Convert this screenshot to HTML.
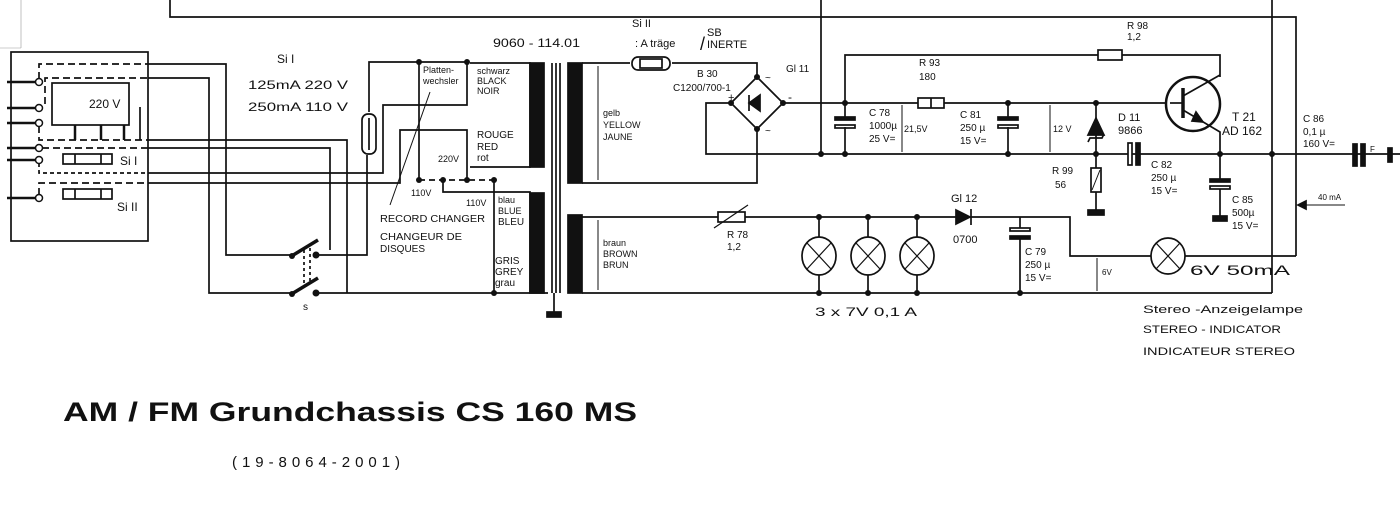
<!DOCTYPE html>
<html><head><meta charset="utf-8"><style>
html,body{margin:0;padding:0;background:#fff;}
svg{display:block;font-family:"Liberation Sans",sans-serif;}
text{fill:#111;}
</style></head><body>
<svg width="1400" height="511" viewBox="0 0 1400 511" xmlns="http://www.w3.org/2000/svg">
<g stroke="#111" stroke-width="1.7" fill="none">
<polyline points="170,0 170,17 1296,17 1296,256"/>
<line x1="821" y1="0" x2="821" y2="154"/>
<line x1="1272" y1="0" x2="1272" y2="293"/>
<line x1="21" y1="0" x2="21" y2="48" stroke-width="0.6" stroke="#999"/>
<line x1="0" y1="48" x2="21" y2="48" stroke-width="0.6" stroke="#999"/>
<rect x="11" y="52" width="137" height="189"/>
<rect x="52" y="83" width="77" height="42"/>
<line x1="75" y1="125" x2="75" y2="140" stroke-width="2.5"/>
<line x1="101" y1="125" x2="101" y2="140" stroke-width="2.5"/>
<line x1="124" y1="125" x2="124" y2="140" stroke-width="2.5"/>
<line x1="140" y1="107" x2="140" y2="140"/>
<g stroke-width="2.5">
<line x1="7" y1="82" x2="36" y2="82"/><line x1="7" y1="108" x2="36" y2="108"/>
<line x1="7" y1="123" x2="36" y2="123"/><line x1="7" y1="148" x2="36" y2="148"/>
<line x1="7" y1="160" x2="36" y2="160"/><line x1="7" y1="198" x2="36" y2="198"/>
</g>
<g stroke-dasharray="7,4">
<polyline points="39,79 39,64 148,64"/>
<polyline points="45,104 45,78 148,78"/>
<polyline points="39,126 39,140 148,140"/>
<line x1="42" y1="148" x2="148" y2="148"/>
<polyline points="39,163 39,173 148,173" stroke-dasharray="4,3"/>
<polyline points="39,195 39,183 148,183"/>
</g>
<rect x="63" y="154" width="49" height="10"/><line x1="75" y1="154" x2="75" y2="164"/><line x1="101" y1="154" x2="101" y2="164"/>
<rect x="63" y="189" width="49" height="10"/><line x1="75" y1="189" x2="75" y2="199"/><line x1="101" y1="189" x2="101" y2="199"/>
<polyline points="148,64 226,64 226,255 292,255"/>
<polyline points="148,78 209,78 209,293 292,293"/>
<polyline points="148,140 347,140 347,293"/>
<polyline points="148,148 330,148 330,250"/>
<polyline points="316,255 367,255 367,155"/>
<polyline points="148,173 383,173 383,105 467,105 467,62"/>
<polyline points="148,183 400,183 400,130 467,130 467,180"/>
<polyline points="369,112 369,62 467,62"/>
<line x1="419" y1="62" x2="419" y2="178"/>
<line x1="419" y1="180" x2="494" y2="180" stroke-dasharray="6,4"/>
<polyline points="443,180 443,192 511,192"/>
<line x1="494" y1="180" x2="494" y2="293"/>
<line x1="316" y1="293" x2="548" y2="293"/>
<line x1="430" y1="92" x2="390" y2="205" stroke-width="1"/>
<rect x="362" y="114" width="14" height="40" rx="6"/>
<line x1="369" y1="118" x2="369" y2="150"/>
<line x1="290" y1="257" x2="318" y2="240" stroke-width="3.5"/>
<line x1="290" y1="295" x2="318" y2="278" stroke-width="3.5"/>
<line x1="304" y1="250" x2="304" y2="285" stroke-dasharray="3,3"/>
<line x1="310" y1="248" x2="310" y2="283" stroke-dasharray="3,3"/>
<polyline points="470,63 530,63 530,167 470,167"/>
<polyline points="511,192 530,192 530,293"/>
<rect x="530" y="63" width="14" height="104" fill="#111"/>
<rect x="530" y="193" width="14" height="100" fill="#111"/>
<line x1="552" y1="63" x2="552" y2="293"/><line x1="556" y1="63" x2="556" y2="293"/><line x1="560" y1="63" x2="560" y2="293"/>
<line x1="554" y1="293" x2="554" y2="313"/>
<rect x="547" y="312" width="14" height="5" fill="#111"/>
<rect x="568" y="63" width="14" height="120" fill="#111"/>
<rect x="568" y="215" width="14" height="78" fill="#111"/>
<line x1="598" y1="66" x2="598" y2="180" stroke-width="1"/>
<line x1="598" y1="220" x2="598" y2="290" stroke-width="1"/>
<polyline points="582,63 630,63"/>
<rect x="632" y="57" width="38" height="13" rx="6"/><rect x="640" y="59" width="22" height="9"/>
<polyline points="672,63 757,63 757,77"/>
<polygon points="757,77 783,103 757,129 731,103"/>
<polygon points="749,103 760,95 760,111" fill="#111"/><line x1="749" y1="95" x2="749" y2="111"/>
<polyline points="731,103 706,103 706,154 1400,154"/>
<polyline points="757,129 757,183 582,183"/>
<line x1="783" y1="103" x2="1170" y2="103"/>
<polyline points="845,103 845,55 1220,55 1220,77"/>
<rect x="1098" y="50" width="24" height="10" fill="#fff"/>
<rect x="918" y="98" width="26" height="10" fill="#fff"/><line x1="931" y1="98" x2="931" y2="108"/>
<line x1="845" y1="103" x2="845" y2="117"/><line x1="845" y1="127" x2="845" y2="154"/>
<rect x="835" y="117" width="20" height="3" fill="#111"/><rect x="835" y="125" width="20" height="3"/>
<line x1="1008" y1="103" x2="1008" y2="117"/><line x1="1008" y1="127" x2="1008" y2="154"/>
<rect x="998" y="117" width="20" height="3" fill="#111"/><rect x="998" y="125" width="20" height="3"/>
<line x1="902" y1="105" x2="902" y2="152" stroke-width="1"/>
<line x1="1050" y1="105" x2="1050" y2="152" stroke-width="1"/>
<line x1="1096" y1="103" x2="1096" y2="154"/>
<polygon points="1096,118 1088,135 1104,135" fill="#111"/>
<polyline points="1088,142 1090,138 1102,138 1104,134"/>
<line x1="1096" y1="154" x2="1096" y2="210"/>
<rect x="1091" y="168" width="10" height="24" fill="#fff"/><line x1="1092" y1="190" x2="1100" y2="170" stroke-width="1"/>
<rect x="1088" y="210" width="16" height="5" fill="#111"/>
<rect x="1128" y="143" width="4" height="22" fill="#fff"/><rect x="1136" y="143" width="4" height="22" fill="#111"/>
<circle cx="1193" cy="104" r="27" stroke-width="2.5" fill="#fff"/>
<line x1="1170" y1="103" x2="1183" y2="103"/>
<line x1="1183" y1="88" x2="1183" y2="118" stroke-width="3.5"/>
<line x1="1183" y1="96" x2="1220" y2="75"/>
<polyline points="1183,110 1220,132 1220,154"/>
<polygon points="1203,122 1196,112 1192,121" fill="#111"/>
<line x1="1220" y1="154" x2="1220" y2="179"/><rect x="1210" y="179" width="20" height="3" fill="#111"/><rect x="1210" y="186" width="20" height="3"/>
<line x1="1220" y1="189" x2="1220" y2="216"/><rect x="1213" y="216" width="14" height="5" fill="#111"/>
<rect x="1353" y="144" width="4" height="22" fill="#111"/><rect x="1361" y="144" width="4" height="22" fill="#111"/>
<rect x="1388" y="148" width="4" height="14" fill="#111"/>
<line x1="1345" y1="205" x2="1300" y2="205" stroke-width="1"/>
<polygon points="1298,205 1306,201 1306,209" fill="#111"/>
<polyline points="582,217 956,217"/>
<rect x="718" y="212" width="27" height="10" fill="#fff"/><line x1="714" y1="228" x2="748" y2="205" stroke-width="1.2"/>
<polygon points="956,210 956,224 970,217" fill="#111"/><line x1="971" y1="209" x2="971" y2="225"/>
<polyline points="971,217 1070,217 1070,256 1152,256"/>
<line x1="1184" y1="256" x2="1296" y2="256"/>
<line x1="582" y1="293" x2="1272" y2="293"/>
<line x1="819" y1="217" x2="819" y2="293"/><line x1="868" y1="217" x2="868" y2="293"/><line x1="917" y1="217" x2="917" y2="293"/>
<g fill="#fff">
<ellipse cx="819" cy="256" rx="17" ry="19"/><ellipse cx="868" cy="256" rx="17" ry="19"/><ellipse cx="917" cy="256" rx="17" ry="19"/><ellipse cx="1168" cy="256" rx="17" ry="18"/>
</g>
<path d="M807,243 L831,269 M831,243 L807,269 M856,243 L880,269 M880,243 L856,269 M905,243 L929,269 M929,243 L905,269 M1156,243 L1180,269 M1180,243 L1156,269" stroke-width="1.2"/>
<line x1="1020" y1="217" x2="1020" y2="228"/><rect x="1010" y="228" width="20" height="3"/><rect x="1010" y="236" width="20" height="3" fill="#111"/><line x1="1020" y1="239" x2="1020" y2="293"/>
<line x1="1097" y1="258" x2="1097" y2="291" stroke-width="1"/>
</g>
<g fill="#111">
<circle cx="419" cy="62" r="3"/><circle cx="467" cy="62" r="3"/><circle cx="419" cy="180" r="3"/><circle cx="443" cy="180" r="3"/><circle cx="467" cy="180" r="3"/><circle cx="494" cy="180" r="3"/><circle cx="494" cy="293" r="3"/>
<circle cx="821" cy="154" r="3"/><circle cx="845" cy="154" r="3"/><circle cx="845" cy="103" r="3"/><circle cx="1008" cy="103" r="3"/><circle cx="1008" cy="154" r="3"/><circle cx="1096" cy="103" r="3"/><circle cx="1096" cy="154" r="3"/><circle cx="1220" cy="154" r="3"/><circle cx="1272" cy="154" r="3"/>
<circle cx="819" cy="217" r="3"/><circle cx="868" cy="217" r="3"/><circle cx="917" cy="217" r="3"/><circle cx="819" cy="293" r="3"/><circle cx="868" cy="293" r="3"/><circle cx="917" cy="293" r="3"/><circle cx="1020" cy="293" r="3"/>
<circle cx="757" cy="77" r="3"/><circle cx="757" cy="129" r="3"/><circle cx="731" cy="103" r="3"/><circle cx="783" cy="103" r="3"/>
<circle cx="316" cy="255" r="3.5"/><circle cx="316" cy="293" r="3.5"/><circle cx="292" cy="256" r="3"/><circle cx="292" cy="294" r="3"/>
</g>
<g fill="#fff" stroke="#111" stroke-width="1.5">
<circle cx="39" cy="82" r="3.5"/><circle cx="39" cy="108" r="3.5"/><circle cx="39" cy="123" r="3.5"/><circle cx="39" cy="148" r="3.5"/><circle cx="39" cy="160" r="3.5"/><circle cx="39" cy="198" r="3.5"/>
</g>
<g font-size="11">
<text x="89" y="108" font-size="12">220 V</text>
<text x="120" y="165" font-size="12">Si I</text>
<text x="117" y="211" font-size="12">Si II</text>
<text x="277" y="63" font-size="12">Si  I</text>
<text x="248" y="89" font-size="12" textLength="100" lengthAdjust="spacingAndGlyphs">125mA    220 V</text>
<text x="248" y="111" font-size="12" textLength="100" lengthAdjust="spacingAndGlyphs">250mA    110 V</text>
<text x="493" y="47" font-size="12" textLength="87" lengthAdjust="spacingAndGlyphs">9060 - 114.01</text>
<text x="423" y="73" font-size="9">Platten-</text><text x="423" y="84" font-size="9">wechsler</text>
<text x="477" y="74" font-size="9">schwarz</text><text x="477" y="84" font-size="9">BLACK</text><text x="477" y="94" font-size="9">NOIR</text>
<text x="477" y="138" font-size="10">ROUGE</text><text x="477" y="150" font-size="10">RED</text><text x="477" y="161" font-size="10">rot</text>
<text x="438" y="162" font-size="9">220V</text>
<text x="411" y="196" font-size="9">110V</text><text x="466" y="206" font-size="9">110V</text>
<text x="498" y="203" font-size="9">blau</text><text x="498" y="214" font-size="9">BLUE</text><text x="498" y="225" font-size="10">BLEU</text>
<text x="380" y="222" font-size="10" textLength="105" lengthAdjust="spacingAndGlyphs">RECORD  CHANGER</text>
<text x="380" y="240" font-size="10" textLength="82" lengthAdjust="spacingAndGlyphs">CHANGEUR  DE</text><text x="380" y="252" font-size="10">DISQUES</text>
<text x="495" y="264" font-size="10">GRIS</text><text x="495" y="275" font-size="10">GREY</text><text x="495" y="286" font-size="10">grau</text>
<text x="303" y="310" font-size="10">s</text>
<text x="632" y="27" font-size="11">Si II</text>
<text x="635" y="47" font-size="11">: A träge</text><text x="700" y="50" font-size="18">/</text>
<text x="707" y="36" font-size="11">SB</text><text x="707" y="48" font-size="11">INERTE</text>
<text x="697" y="77" font-size="10">B 30</text><text x="673" y="91" font-size="10">C1200/700-1</text>
<text x="786" y="72" font-size="10">Gl 11</text>
<text x="728" y="101" font-size="11">+</text><text x="788" y="101" font-size="12">-</text>
<text x="765" y="81" font-size="10">~</text><text x="765" y="134" font-size="10">~</text>
<text x="603" y="116" font-size="9">gelb</text><text x="603" y="128" font-size="9">YELLOW</text><text x="603" y="140" font-size="9">JAUNE</text>
<text x="603" y="246" font-size="9">braun</text><text x="603" y="257" font-size="9">BROWN</text><text x="603" y="268" font-size="9">BRUN</text>
<text x="919" y="66" font-size="10">R 93</text><text x="919" y="80" font-size="10">180</text>
<text x="869" y="116" font-size="10">C 78</text><text x="869" y="129" font-size="10">1000µ</text><text x="869" y="142" font-size="10">25 V=</text>
<text x="904" y="132" font-size="9">21,5V</text>
<text x="960" y="118" font-size="10">C 81</text><text x="960" y="131" font-size="10">250 µ</text><text x="960" y="144" font-size="10">15 V=</text>
<text x="1053" y="132" font-size="9">12 V</text>
<text x="1118" y="121" font-size="11">D 11</text><text x="1118" y="134" font-size="11">9866</text>
<text x="1127" y="29" font-size="10">R 98</text><text x="1127" y="40" font-size="10">1,2</text>
<text x="1232" y="121" font-size="12">T 21</text><text x="1222" y="135" font-size="12">AD 162</text>
<text x="1303" y="122" font-size="10">C  86</text><text x="1303" y="135" font-size="10">0,1 µ</text><text x="1303" y="147" font-size="10">160 V=</text>
<text x="1370" y="152" font-size="8">F</text>
<text x="1052" y="174" font-size="10">R  99</text><text x="1055" y="188" font-size="10">56</text>
<text x="1151" y="168" font-size="10">C 82</text><text x="1151" y="181" font-size="10">250 µ</text><text x="1151" y="194" font-size="10">15 V=</text>
<text x="1232" y="203" font-size="10">C 85</text><text x="1232" y="216" font-size="10">500µ</text><text x="1232" y="229" font-size="10">15 V=</text>
<text x="1318" y="200" font-size="8">40 mA</text>
<text x="951" y="202" font-size="11">Gl 12</text><text x="953" y="243" font-size="11">0700</text>
<text x="727" y="238" font-size="10">R 78</text><text x="727" y="250" font-size="10">1,2</text>
<text x="1025" y="255" font-size="10">C 79</text><text x="1025" y="268" font-size="10">250 µ</text><text x="1025" y="281" font-size="10">15 V=</text>
<text x="1102" y="275" font-size="8">6V</text>
<text x="1190" y="275" font-size="14" textLength="100" lengthAdjust="spacingAndGlyphs">6V  50mA</text>
<text x="815" y="316" font-size="12" textLength="102" lengthAdjust="spacingAndGlyphs">3  x   7V   0,1 A</text>
<text x="1143" y="313" font-size="11" textLength="160" lengthAdjust="spacingAndGlyphs">Stereo  -Anzeigelampe</text>
<text x="1143" y="333" font-size="11" textLength="138" lengthAdjust="spacingAndGlyphs">STEREO - INDICATOR</text>
<text x="1143" y="355" font-size="11" textLength="152" lengthAdjust="spacingAndGlyphs">INDICATEUR   STEREO</text>
</g>
<text x="63" y="421" font-size="27" style="font-weight:bold" textLength="574" lengthAdjust="spacingAndGlyphs">AM / FM  Grundchassis  CS 160 MS</text>
<text x="232" y="467" font-size="15" textLength="168" lengthAdjust="spacing">(19-8064-2001)</text>
</svg>
</body></html>
